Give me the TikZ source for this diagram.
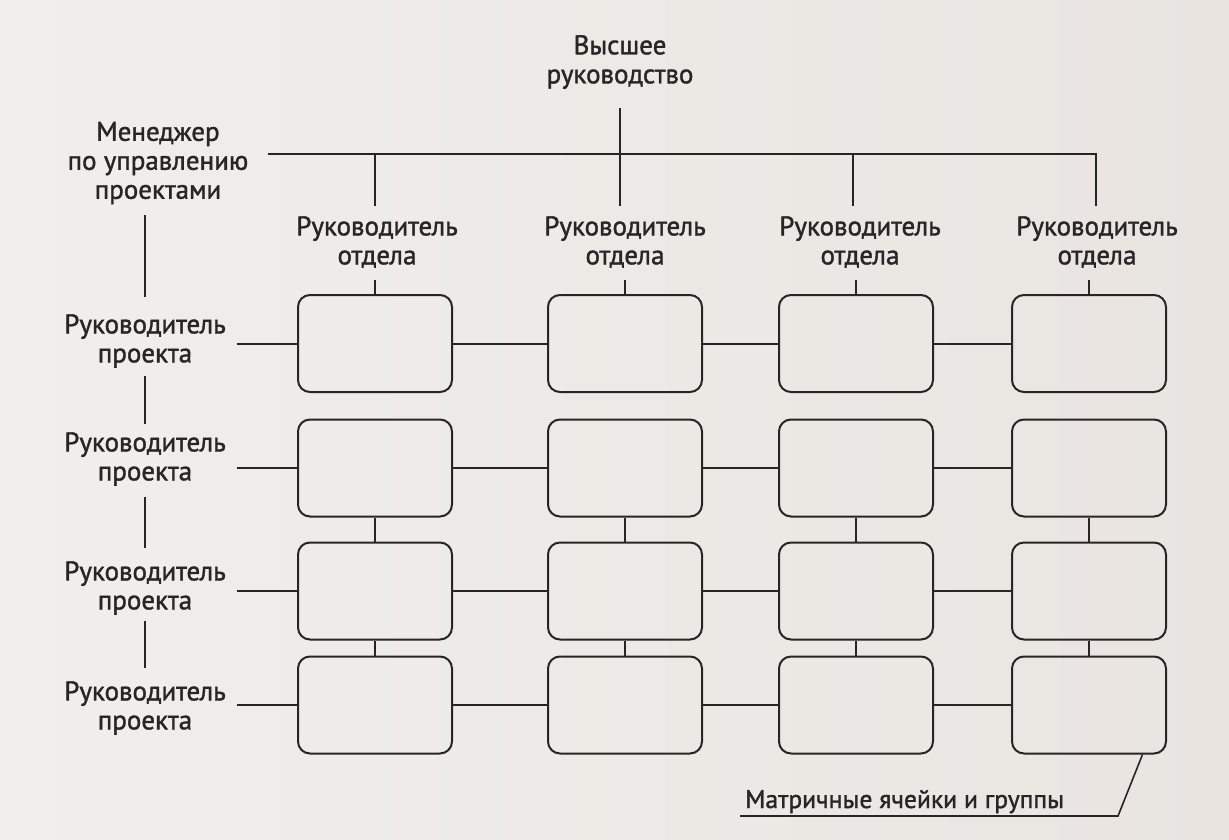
\documentclass[tikz,border=0pt]{standalone}
\usepackage{fontspec}
\setmainfont{PT Sans}
\newfontfamily\lblfont{PT Sans}[FakeBold=1.4]
\usetikzlibrary{calc}
\definecolor{paperL}{HTML}{F0EFEC}
\definecolor{paperR}{HTML}{E9E4E0}
\definecolor{ink}{HTML}{262626}
\begin{document}
\begin{tikzpicture}[x=1pt,y=-1pt,
  cell/.style={draw=ink, line width=2pt, rounded corners=12pt, minimum width=154pt, minimum height=97pt, inner sep=0pt},
  lbl/.style={text=ink, font=\lblfont\fontsize{27}{29}\selectfont, align=center, inner sep=0pt},
  conn/.style={draw=ink, line width=2pt}]
\shade[left color=paperL, right color=paperR] (0,0) rectangle (1229,839);
\useasboundingbox (0,0) rectangle (1229,839);
% cells
\foreach \cx [count=\i] in {375,625,856,1089}
  \foreach \ry [count=\j] in {343.5,468,591,705}
    \node[cell] (c\j\i) at (\cx,\ry) {};
% labels
\node[lbl] (top) at (620,62) {Высшее\\руководство};
\node[lbl] (mgr) at (158,163) {Менеджер\\по управлению\\проектами};
\node[lbl] (d1) at (377,242) {Руководитель\\отдела};
\node[lbl] (d2) at (625,242) {Руководитель\\отдела};
\node[lbl] (d3) at (860,242) {Руководитель\\отдела};
\node[lbl] (d4) at (1097,242) {Руководитель\\отдела};
\node[lbl] (p1) at (145,341) {Руководитель\\проекта};
\node[lbl] (p2) at (145,459) {Руководитель\\проекта};
\node[lbl] (p3) at (145,588) {Руководитель\\проекта};
\node[lbl] (p4) at (145,708) {Руководитель\\проекта};
\node[lbl, font=\lblfont\fontsize{25.6}{29}\selectfont, anchor=base west] (mx) at (745,808) {Матричные ячейки и группы};
% top bar
\coordinate (barL) at (268,154);
\coordinate (barR) at (1096,154);
\draw[conn, shorten >=10pt] (barL) -- (barR) -- (barR |- d4.north);
\draw[conn, shorten <=19pt, shorten >=10pt] (top.south) -- (top.south |- d2.north);
\draw[conn, shorten >=10pt] (barL -| 375,0) -- (375,0 |- d1.north);
\draw[conn, shorten >=10pt] (barL -| 853,0) -- (853,0 |- d3.north);
% label to cell
\foreach \i in {1,2,3,4}
  \draw[conn, shorten <=12pt] (c1\i.north |- d\i.south) -- (c1\i.north);
% rows
\foreach \j in {1,2,3,4}{
  \draw[conn, shorten <=11pt] (p\j.east |- c\j1.west) -- (c\j1.west);
  \draw[conn] (c\j1.east) -- (c\j2.west);
  \draw[conn] (c\j2.east) -- (c\j3.west);
  \draw[conn] (c\j3.east) -- (c\j4.west);
}
% columns
\foreach \i in {1,2,3,4}{
  \draw[conn] (c2\i.south) -- (c3\i.north);
  \draw[conn] (c3\i.south) -- (c4\i.north);
}
% left chain
\draw[conn, shorten <=11pt, shorten >=17pt] (mgr.south -| p1.north) -- (p1.north);
\draw[conn, shorten <=8pt, shorten >=8pt] (p1.south) -- (p2.north);
\draw[conn, shorten <=11pt, shorten >=13pt] (p2.south) -- (p3.north);
\draw[conn, shorten <=6pt, shorten >=13pt] (p3.south) -- (p4.north);
% pointer
\coordinate (ul) at (740,816);
\coordinate (uk) at (1118,816);
\draw[conn, line width=1.6pt] (ul) -- (uk) -- ($(c44.south east)+(-24.5,0)$);
\end{tikzpicture}
\end{document}
